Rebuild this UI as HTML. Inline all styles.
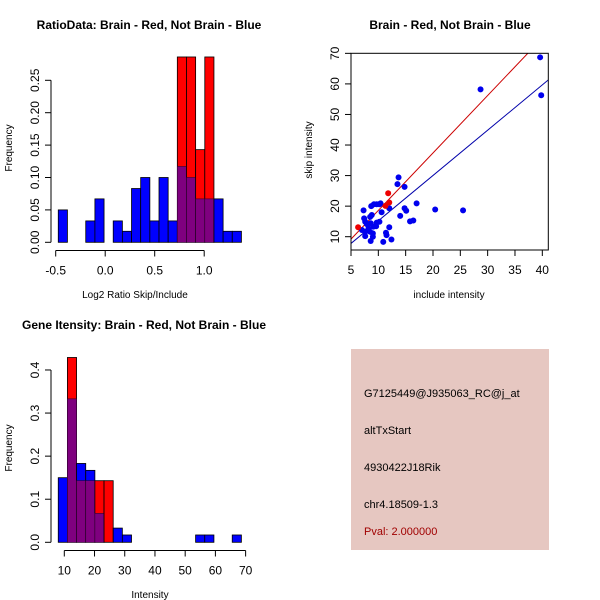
<!DOCTYPE html>
<html><head><meta charset="utf-8"><style>
html,body{margin:0;padding:0;background:#fff;}
svg{display:block;font-family:"Liberation Sans",Arial,sans-serif;}
</style></head><body>
<svg id="chart" width="600" height="600" viewBox="0 0 600 600" xmlns="http://www.w3.org/2000/svg">
<rect x="0" y="0" width="600" height="600" fill="#fff"/>
<g id="p1"></g>
<g id="p2"></g>
<g id="p3"></g>
<g id="p4">
<rect x="351" y="349" width="198" height="201" fill="#e6c7c1"/>
<text x="364" y="397" font-size="11" fill="#000">G7125449@J935063_RC@j_at</text>
<text x="364" y="434" font-size="11" fill="#000">altTxStart</text>
<text x="364" y="471" font-size="11" fill="#000">4930422J18Rik</text>
<text x="364" y="508" font-size="11" fill="#000">chr4.18509-1.3</text>
<text x="364" y="535" font-size="11" fill="#a00000">Pval: 2.000000</text>
</g>
</svg>
<script>
// ---- Ratio histogram data ----
const ratioBinStart = -0.474;
const ratioBinWidth = 0.0925;
const ratioBlue = [0.05,0,0,0.033,0.067,0,0.033,0.017,0.083,0.1,0.033,0.1,0.033,0.117,0.1,0.067,0.067,0.067,0.017,0.017];
const ratioRed  = [0,0,0,0,0,0,0,0,0,0,0,0,0,0.286,0.286,0.143,0.286,0,0,0];
const ratioXTicks = [-0.5,0,0.5,1.0];
const ratioXTickLabels = ["-0.5","0.0","0.5","1.0"];
const ratioYTicks = [0,0.05,0.1,0.15,0.2,0.25];
const ratioYTickLabels = ["0.00","0.05","0.10","0.15","0.20","0.25"];
// ---- Scatter data ----
const blueInclude = [7.3,8.7,9.2,9.7,10.2,10.4,10.6,12.0,10.2,9.6,8.8,8.5,7.4,7.6,7.9,7.0,7.6,7.6,8.2,8.5,9.0,9.0,8.6,10.9,11.4,11.5,12.0,12.4,8.6,9.1,9.7,13.5,13.7,14.8,14.8,15.1,14.0,15.8,16.4,17.0,20.4,25.5,28.7,39.6,39.8];
const blueSkip    = [18.6,20.0,20.6,20.6,20.6,20.9,18.0,19.3,14.9,13.4,17.1,16.5,16.0,14.9,14.1,12.2,11.6,10.2,12.7,11.6,11.1,10.0,8.6,8.3,11.3,10.5,13.1,9.1,14.4,13.3,14.6,27.2,29.4,26.3,19.3,18.5,16.8,15.0,15.3,20.9,18.9,18.6,58.2,68.7,56.3];
const redInclude = [6.3,11.8,12.0,11.3];
const redSkip    = [13.1,24.2,21.2,20.1];
const redFit  = [1.88,-0.2];   // slope, intercept
const blueFit = [1.482,0.39];
const scXTicks = [5,10,15,20,25,30,35,40];
const scYTicks = [10,20,30,40,50,60,70];
// ---- Intensity histogram data ----
const intBinStart = 8.0;
const intBinWidth = 3.03;
const intBlue = [0.15,0.333,0.183,0.167,0.067,0,0.033,0.017,0,0,0,0,0,0,0,0.017,0.017,0,0,0.017];
const intRed  = [0,0.429,0.143,0.143,0.143,0.143,0,0,0,0,0,0,0,0,0,0,0,0,0,0];
const intXTicks = [10,20,30,40,50,60,70];
const intYTicks = [0,0.1,0.2,0.3,0.4];
const intYTickLabels = ["0.0","0.1","0.2","0.3","0.4"];

const NS="http://www.w3.org/2000/svg";
function mk(parent,tag,attrs,text){const e=document.createElementNS(NS,tag);for(const k in attrs)e.setAttribute(k,attrs[k]);if(text!==undefined)e.textContent=text;parent.appendChild(e);return e;}

function histogram(g, xs, ys, binStart, binW, blue, red, xT, xTL, yT, yTL, xAxisY, yAxisX, title, titleX, titleY, xlab, xlabY, ylabY){
  const t=mk(g,'text',{x:titleX,y:titleY,'font-size':12,'font-weight':'bold','text-anchor':'middle'},title);
  
  
  for(let i=0;i<blue.length;i++){
    const x0=xs(binStart+i*binW), x1=xs(binStart+(i+1)*binW);
    const b=blue[i], r=red[i], lo=Math.min(b,r), hi=Math.max(b,r);
    if(hi<=0) continue;
    const topColor = b>=r ? '#0000ff' : '#ff0000';
    const e1=mk(g,'rect',{x:x0,y:ys(hi),width:x1-x0,height:ys(0)-ys(hi),fill:topColor,stroke:'#000','stroke-width':0.8});
    
    
    if(lo>0){
      const e2=mk(g,'rect',{x:x0,y:ys(lo),width:x1-x0,height:ys(0)-ys(lo),fill:'#7f007f',stroke:'#330033','stroke-width':0.6});
      
      
    }
  }
  // x axis
  const xa=mk(g,'line',{x1:xs(xT[0]),x2:xs(xT[xT.length-1]),y1:xAxisY,y2:xAxisY,stroke:'#000'});
  
  
  xT.forEach((v,i)=>{
    mk(g,'line',{x1:xs(v),x2:xs(v),y1:xAxisY,y2:xAxisY+6,stroke:'#000'});
    const tl=mk(g,'text',{x:xs(v),y:xAxisY+24,'font-size':12,'text-anchor':'middle'},xTL[i]);
    
    
  });
  const ya=mk(g,'line',{x1:yAxisX,x2:yAxisX,y1:ys(yT[0]),y2:ys(yT[yT.length-1]),stroke:'#000'});
  
  
  yT.forEach((v,i)=>{
    mk(g,'line',{x1:yAxisX-6,x2:yAxisX,y1:ys(v),y2:ys(v),stroke:'#000'});
    const tl=mk(g,'text',{x:yAxisX-12,y:ys(v),'font-size':12,'text-anchor':'middle',transform:`rotate(-90 ${yAxisX-12} ${ys(v)})`},yTL[i]);
    
    
  });
  const xl=mk(g,'text',{x:(xs(xT[0])+xs(xT[xT.length-1]))/2+ (xlab==='Intensity'?-5:5),y:xlabY,'font-size':10,'text-anchor':'middle'},xlab);
  
  
  const yl=mk(g,'text',{x:12,y:ylabY,'font-size':10,'text-anchor':'middle',transform:`rotate(-90 12 ${ylabY})`},'Frequency');
  
  
}

// Panel 1
const p1=document.getElementById('p1');
histogram(p1, v=>55.7+(v+0.5)*99, v=>242.3-v*648, ratioBinStart, ratioBinWidth, ratioBlue, ratioRed,
  ratioXTicks, ratioXTickLabels, ratioYTicks, ratioYTickLabels, 250.5, 51,
  'RatioData: Brain - Red, Not Brain - Blue', 149, 29, 'Log2 Ratio Skip/Include', 298, 148);

// Panel 3
const p3=document.getElementById('p3');
histogram(p3, v=>64.3+(v-10)*3.022, v=>542.3-v*430.8, intBinStart, intBinWidth, intBlue, intRed,
  intXTicks, intXTicks.map(String), intYTicks, intYTickLabels, 550.5, 51,
  'Gene Itensity: Brain - Red, Not Brain - Blue', 144, 329, 'Intensity', 598, 448);

// Panel 2 scatter
const p2=document.getElementById('p2');
const sx=v=>351+(v-5)*5.466, sy=v=>236.7-(v-10)*3.056;
const tt=mk(p2,'text',{x:450,y:29,'font-size':12,'font-weight':'bold','text-anchor':'middle'},'Brain - Red, Not Brain - Blue');


const cp=mk(mk(p2,'defs',{}),'clipPath',{id:'scclip'});
mk(cp,'rect',{x:351,y:53.3,width:197.3,height:196.7});
const lg=mk(p2,'g',{'clip-path':'url(#scclip)'});
[[redFit,'#cc0000','red-fit-line'],[blueFit,'#0000aa','blue-fit-line']].forEach(([f,c,n])=>{
  const l=mk(lg,'line',{x1:sx(0),y1:sy(f[1]),x2:sx(50),y2:sy(f[0]*50+f[1]),stroke:c,'stroke-width':1});
  
  
});
blueInclude.forEach((v,i)=>{
  const c=mk(p2,'circle',{cx:sx(v),cy:sy(blueSkip[i]),r:3,fill:'#0000ee'});
  
  
});
redInclude.forEach((v,i)=>{
  const c=mk(p2,'circle',{cx:sx(v),cy:sy(redSkip[i]),r:3,fill:'#ee0000'});
  
  
});
const fr=mk(p2,'rect',{x:351,y:53.3,width:197.3,height:196.7,fill:'none',stroke:'#000'});


scXTicks.forEach(v=>{
  mk(p2,'line',{x1:sx(v),x2:sx(v),y1:250,y2:256,stroke:'#000'});
  const tl=mk(p2,'text',{x:sx(v),y:274,'font-size':12,'text-anchor':'middle'},String(v));
  
  
});
scYTicks.forEach(v=>{
  mk(p2,'line',{x1:345,x2:351,y1:sy(v),y2:sy(v),stroke:'#000'});
  const tl=mk(p2,'text',{x:339,y:sy(v),'font-size':12,'text-anchor':'middle',transform:`rotate(-90 339 ${sy(v)})`},String(v));
  
  
});
const sxl=mk(p2,'text',{x:449,y:298,'font-size':10,'text-anchor':'middle'},'include intensity');


const syl=mk(p2,'text',{x:312,y:150,'font-size':10,'text-anchor':'middle',transform:'rotate(-90 312 150)'},'skip intensity');


</script>
</body></html>
